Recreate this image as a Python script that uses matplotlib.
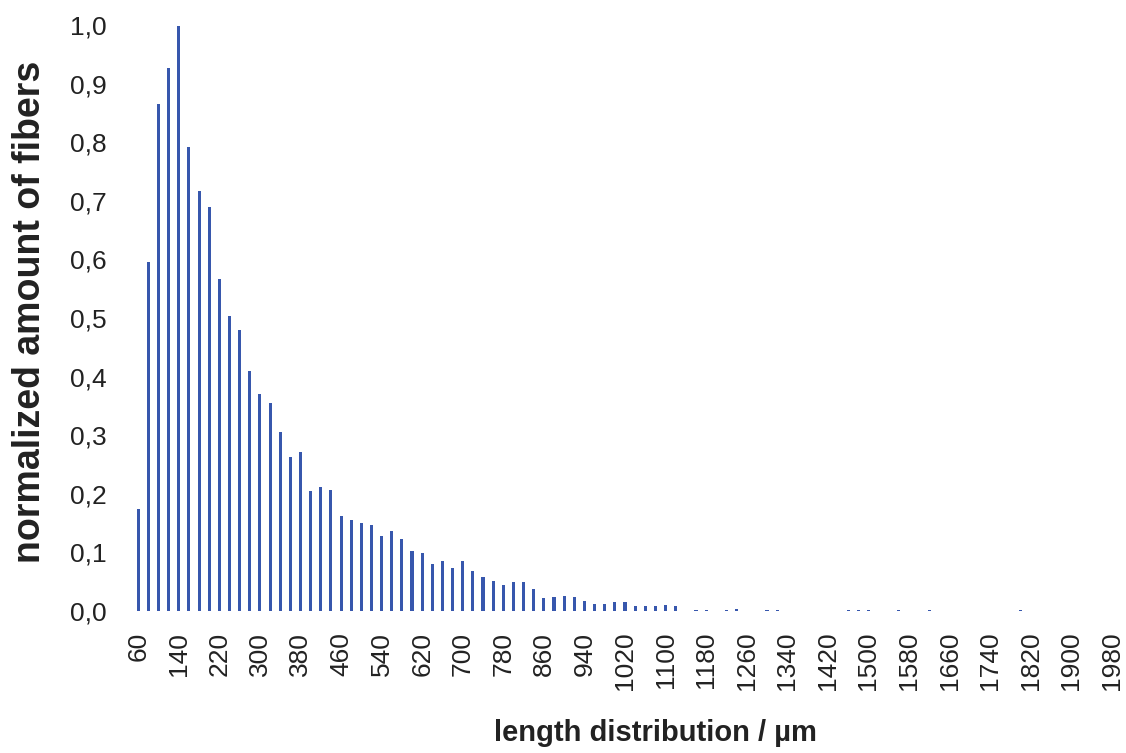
"""Fiber length distribution, normalized bar chart."""

import numpy as np
import matplotlib

matplotlib.use("Agg")
import matplotlib.pyplot as plt

plt.rcParams["font.family"] = ["Liberation Sans", "DejaVu Sans"]

# bin centres in µm, 20 µm steps
lengths = np.arange(60, 2000, 20)

# normalized amount of fibers per bin
amount = [
    0.174, 0.596, 0.865, 0.927, 0.998, 0.792, 0.716, 0.690, 0.567, 0.503,
    0.480, 0.410, 0.370, 0.354, 0.305, 0.262, 0.271, 0.204, 0.211, 0.206,
    0.162, 0.155, 0.150, 0.147, 0.128, 0.136, 0.123, 0.102, 0.099, 0.080,
    0.085, 0.073, 0.085, 0.068, 0.058, 0.051, 0.044, 0.050, 0.049, 0.037,
    0.022, 0.024, 0.025, 0.024, 0.017, 0.012, 0.012, 0.015, 0.015, 0.009,
    0.009, 0.008, 0.010, 0.008,
    # 1140 .. 1980
    0.0, 0.002, 0.002, 0.0, 0.002, 0.003, 0.0, 0.0, 0.002, 0.002,
    0.0, 0.0, 0.0, 0.0, 0.0, 0.0, 0.002, 0.002, 0.002, 0.0,
    0.0, 0.002, 0.0, 0.0, 0.002, 0.0, 0.0, 0.0, 0.0, 0.0,
    0.0, 0.0, 0.0, 0.002, 0.0, 0.0, 0.0, 0.0, 0.0, 0.0,
    0.0, 0.0, 0.0,
]

tick_lengths = lengths[::4]
y_ticks = [i / 10 for i in range(11)]

W, H = 1126, 753
fig = plt.figure(figsize=(W / 100, H / 100), dpi=100)
# axes placed in pixel terms: left 125, right 1126, top 15, bottom 615
ax = fig.add_axes([125 / W, (H - 615) / H, (W - 125) / W, 600 / H])

ax.bar(lengths, amount, width=6, color="#3757ad", linewidth=0)

ax.set_xlim(34, 2008)
ax.set_ylim(-0.007, 1.017)

ax.set_xticks(tick_lengths)
ax.set_xticklabels([str(v) for v in tick_lengths], rotation=90, fontsize=19)
ax.set_yticks(y_ticks)
ax.set_yticklabels([f"{v:.1f}".replace(".", ",") for v in y_ticks], fontsize=19)
ax.tick_params(axis="both", length=0, colors="#222222")
ax.tick_params(axis="x", pad=12)
ax.tick_params(axis="y", pad=13)

for side in ax.spines.values():
    side.set_visible(False)

fig.text(655 / W, 1 - 733 / H, "length distribution / µm", ha="center", va="center",
         fontsize=21, fontweight="bold", color="#222222")
fig.text(30 / W, 1 - 312 / H, "normalized amount of fibers", ha="center", va="center",
         rotation=90, fontsize=27, fontweight="bold", color="#222222")

fig.savefig("out.png", dpi=100)
